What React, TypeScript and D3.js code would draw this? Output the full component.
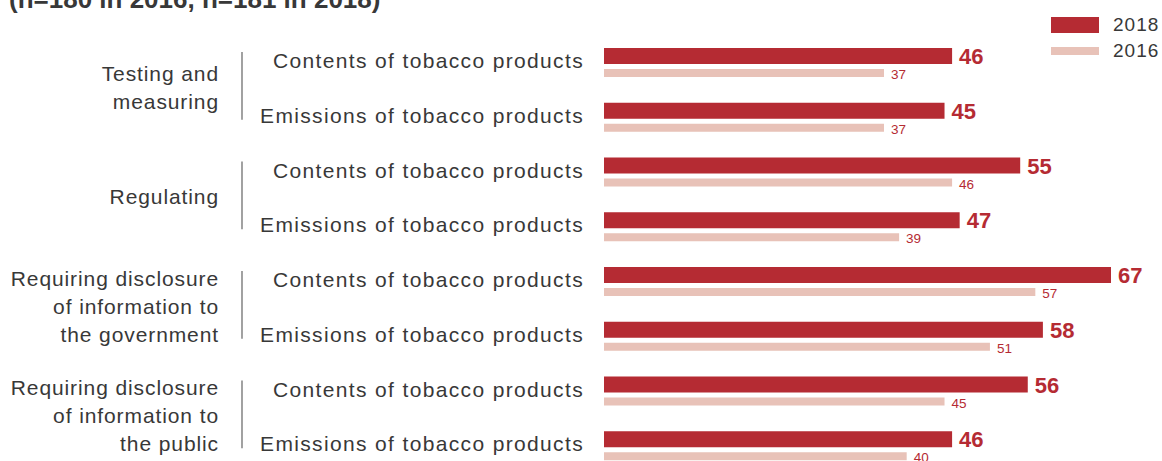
import React from "react";
import * as d3 from "d3";

const groups = [
  { label: ["Testing and", "measuring"], rows: 2 },
  { label: ["Regulating"], rows: 2 },
  { label: ["Requiring disclosure", "of information to", "the government"], rows: 2 },
  { label: ["Requiring disclosure", "of information to", "the public"], rows: 2 },
];
const categories = [
  "Contents of tobacco products",
  "Emissions of tobacco products",
  "Contents of tobacco products",
  "Emissions of tobacco products",
  "Contents of tobacco products",
  "Emissions of tobacco products",
  "Contents of tobacco products",
  "Emissions of tobacco products",
];
const values2018 = [46, 45, 55, 47, 67, 58, 56, 46];
const values2016 = [37, 37, 46, 39, 57, 51, 45, 40];
const seriesLabels = ["2018", "2016"];
const title = "(n=180 in 2016, n=181 in 2018)";

const DARK = "#b52b33";
const LIGHT = "#e8c2b8";
const TEXT = "#383838";
const FONT = "'Liberation Sans', Arial, sans-serif";

export default function App() {
  const W = 1162, H = 461;
  const x = d3.scaleLinear().domain([0, 67]).range([604, 1111]);
  const y = d3.scaleBand<number>().domain(d3.range(8)).range([48, 48 + 8 * 54.75]).paddingInner(0).paddingOuter(0);

  return (
    <svg width={W} height={H} style={{ position: "absolute", left: 0, top: 0 }} fontFamily={FONT}>
      <text x={9} y={8} fontSize={26} fontWeight="bold" fill={TEXT}>{title}</text>
      {/* legend */}
      <rect x={1051} y={17} width={48} height={16} fill={DARK} />
      <rect x={1051} y={47} width={48} height={8} fill={LIGHT} />
      <text x={1113} y={31} fontSize={19} letterSpacing={1} fill={TEXT}>{seriesLabels[0]}</text>
      <text x={1113} y={57} fontSize={19} letterSpacing={1} fill={TEXT}>{seriesLabels[1]}</text>

      {groups.map((g, gi) => {
        const r0 = gi * 2;
        const top = y(r0)! + 4;
        const bottom = y(r0 + 1)! + 17;
        const rowMid = (y(r0)! + y(r0 + 1)!) / 2 + 13;
        const mid = rowMid - 1;
        const lh = 28;
        const n = g.label.length;
        return (
          <g key={gi}>
            <line x1={242} x2={242} y1={top} y2={bottom} stroke="#555" strokeWidth={1.1} />
            {g.label.map((l, li) => (
              <text key={li} x={219} y={mid + (li - (n - 1) / 2) * lh + 7.5} textAnchor="end" fontSize={21} letterSpacing={0.9} fill={TEXT}>{l}</text>
            ))}
          </g>
        );
      })}

      {categories.map((c, i) => {
        const top = y(i)!;
        return (
          <g key={i}>
            <text x={584} y={top + 20} textAnchor="end" fontSize={21} letterSpacing={1.35} fill={TEXT}>{c}</text>
            <rect x={x(0)} y={top} width={x(values2018[i]) - x(0)} height={16} fill={DARK} />
            <rect x={x(0)} y={top + 21} width={x(values2016[i]) - x(0)} height={8} fill={LIGHT} />
            <text x={x(values2018[i]) + 7} y={top + 16} fontSize={22} fontWeight="bold" fill={DARK}>{values2018[i]}</text>
            <text x={x(values2016[i]) + 7} y={top + 31} fontSize={13.5} fill={DARK}>{values2016[i]}</text>
          </g>
        );
      })}
    </svg>
  );
}
